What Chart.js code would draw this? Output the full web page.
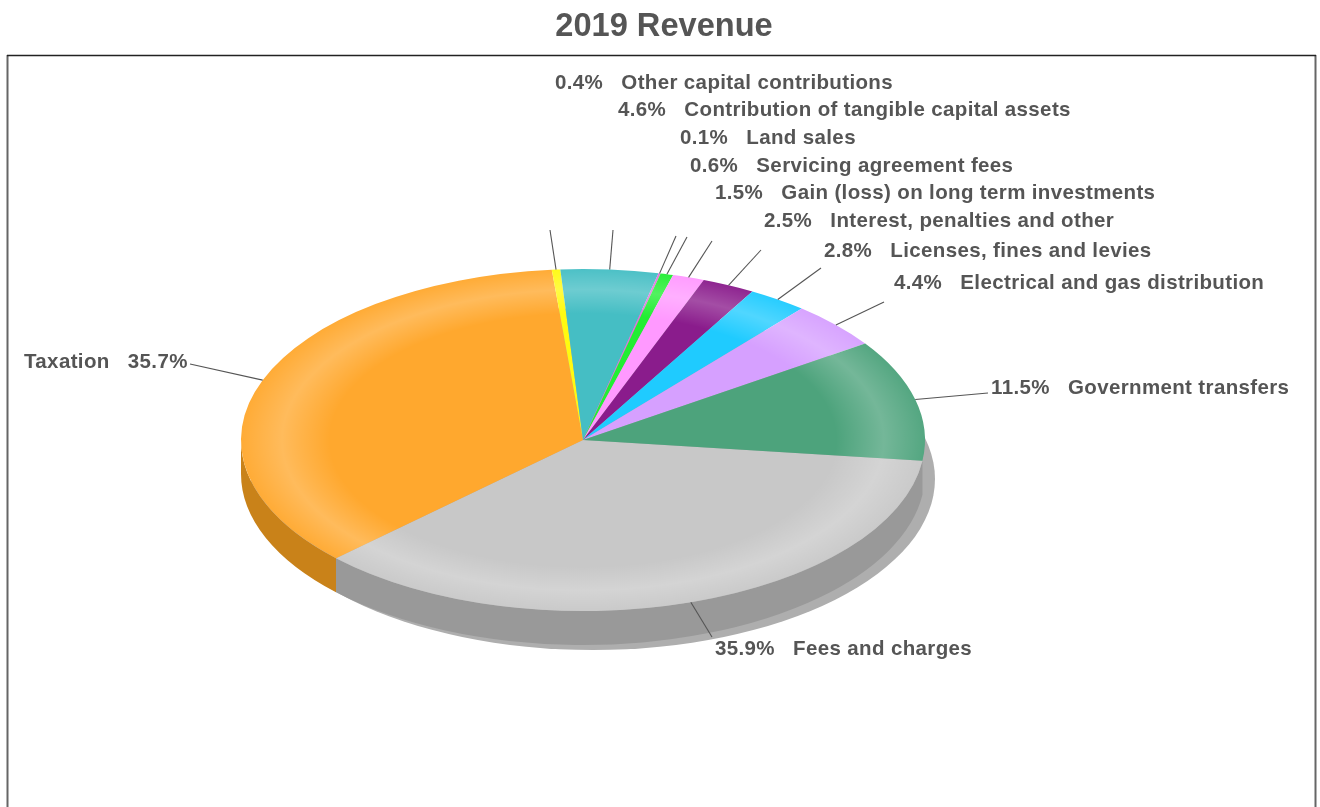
<!DOCTYPE html>
<html>
<head>
<meta charset="utf-8">
<title>2019 Revenue</title>
<style>html,body{margin:0;padding:0;background:#fff}canvas{display:block}</style>
<script src="https://cdn.jsdelivr.net/npm/chart.js@4/dist/chart.umd.min.js"></script>
</head>
<body>
<canvas id="c" width="1320" height="807"></canvas>
<script>
const categories = ["Fees and charges","Taxation","Other capital contributions","Contribution of tangible capital assets","Land sales","Servicing agreement fees","Gain (loss) on long term investments","Interest, penalties and other","Licenses, fines and levies","Electrical and gas distribution","Government transfers"];
const values = [35.9,35.7,0.4,4.6,0.1,0.6,1.5,2.5,2.8,4.4,11.5];
const topColors = ["#C8C8C8","#FFA82E","#FFFA10","#45BEC4","#E070E0","#22EE33","#FF99FF","#8A1C8C","#1FCBFF","#D6A0FF","#4DA37C"];
const sideColors = ["#999999","#C98219","#C0B810","#2F8E92","#A050A0","#18A825","#C070C0","#5A105C","#1595BE","#9C74BE","#2F7A58"];

// Layout of the outside labels: where each leader stops and where its text starts
const leaderEnds = [[712,637],[190,364],[550,230],[613,230],[676,236],[687,237],[712,241],[761,250],[821,268],[884,302],[988,393]];
const labelAnchors = [[715,648],[24,361],[555,82],[618,109],[680,137],[690,165],[715,192],[764,220],[824,250],[894,282],[991,387]];
const SQUASH = 0.5, DEPTH = 34, SHADOW_DX = 10, SHADOW_DY = 39;

const pie3d = {
  id: 'pie3d',
  afterLayout(chart) {
    // centre the title on the frame rather than on the padded pie area
    chart.titleBlock.left = 8;
    chart.titleBlock.right = 1320;
  },
  beforeDraw(chart) {
    const c = chart.ctx;
    c.save();
    c.fillStyle = '#fff';
    c.fillRect(0, 0, chart.width, chart.height);
    c.strokeStyle = '#666';
    c.lineWidth = 2;
    c.beginPath();
    c.moveTo(7.5, 55); c.lineTo(7.5, 807);
    c.moveTo(1315.5, 55); c.lineTo(1315.5, 807);
    c.stroke();
    c.strokeStyle = '#222';
    c.lineWidth = 1.4;
    c.beginPath();
    c.moveTo(7, 55.5); c.lineTo(1316, 55.5);
    c.stroke();
    c.restore();
  },
  beforeDatasetsDraw(chart) {
    const c = chart.ctx, arcs = chart.getDatasetMeta(0).data;
    const cx = arcs[0].x, cy = arcs[0].y, rx = arcs[0].outerRadius, ry = rx * SQUASH;
    c.save();
    c.fillStyle = '#AEAEAE';
    c.beginPath();
    c.ellipse(cx + SHADOW_DX, cy + SHADOW_DY, rx, ry, 0, 0, Math.PI * 2);
    c.fill();
    arcs.forEach((a, i) => {
      const s = Math.max(a.startAngle, 0), e = Math.min(a.endAngle, Math.PI);
      if (e <= s) return;
      c.fillStyle = sideColors[i];
      c.beginPath();
      c.ellipse(cx, cy, rx, ry, 0, s, e);
      c.ellipse(cx, cy + DEPTH, rx, ry, 0, e, s, true);
      c.closePath();
      c.fill();
    });
    c.restore();
    c.save();
    c.translate(cx, cy);
    c.scale(1, SQUASH);
    c.translate(-cx, -cy);
  },
  afterDatasetsDraw(chart) {
    const c = chart.ctx, arcs = chart.getDatasetMeta(0).data;
    const cx = arcs[0].x, cy = arcs[0].y, rx = arcs[0].outerRadius, ry = rx * SQUASH;
    // bevel highlight, still in the squashed space
    const g = c.createRadialGradient(cx, cy, 0, cx, cy, rx);
    g.addColorStop(0, 'rgba(255,255,255,0)');
    g.addColorStop(0.74, 'rgba(255,255,255,0)');
    g.addColorStop(0.88, 'rgba(255,255,255,0.22)');
    g.addColorStop(1, 'rgba(255,255,255,0.04)');
    c.fillStyle = g;
    c.beginPath();
    c.arc(cx, cy, rx, 0, Math.PI * 2);
    c.fill();
    c.restore();

    c.save();
    c.strokeStyle = '#555';
    c.lineWidth = 1.1;
    c.fillStyle = '#555';
    c.font = 'bold 20.5px "Liberation Sans", Arial, sans-serif';
    c.letterSpacing = '0.36px';
    c.textBaseline = 'middle';
    c.textAlign = 'left';
    arcs.forEach((a, i) => {
      const mid = (a.startAngle + a.endAngle) / 2;
      c.beginPath();
      c.moveTo(cx + rx * Math.cos(mid), cy + ry * Math.sin(mid));
      c.lineTo(leaderEnds[i][0], leaderEnds[i][1]);
      c.stroke();
      const pct = values[i].toFixed(1) + '%';
      const txt = categories[i] === 'Taxation' ? categories[i] + '   ' + pct : pct + '   ' + categories[i];
      c.fillText(txt, labelAnchors[i][0], labelAnchors[i][1] + 1);
    });
    c.restore();
  }
};

new Chart(document.getElementById('c'), {
  type: 'pie',
  data: {
    labels: categories,
    datasets: [{ data: values, backgroundColor: topColors, borderWidth: 0, hoverOffset: 0 }]
  },
  options: {
    responsive: false,
    animation: false,
    rotation: 97,
    layout: { padding: { left: 241, right: 395, top: 7, bottom: 25 } },
    plugins: {
      legend: { display: false },
      tooltip: { enabled: false },
      title: {
        display: true,
        text: '2019 Revenue',
        color: '#555',
        font: { family: '"Liberation Sans", Arial, sans-serif', size: 32.6, weight: 'bold' },
        padding: { top: 0, bottom: 51.9 }
      }
    }
  },
  plugins: [pie3d]
});
</script>
</body>
</html>
